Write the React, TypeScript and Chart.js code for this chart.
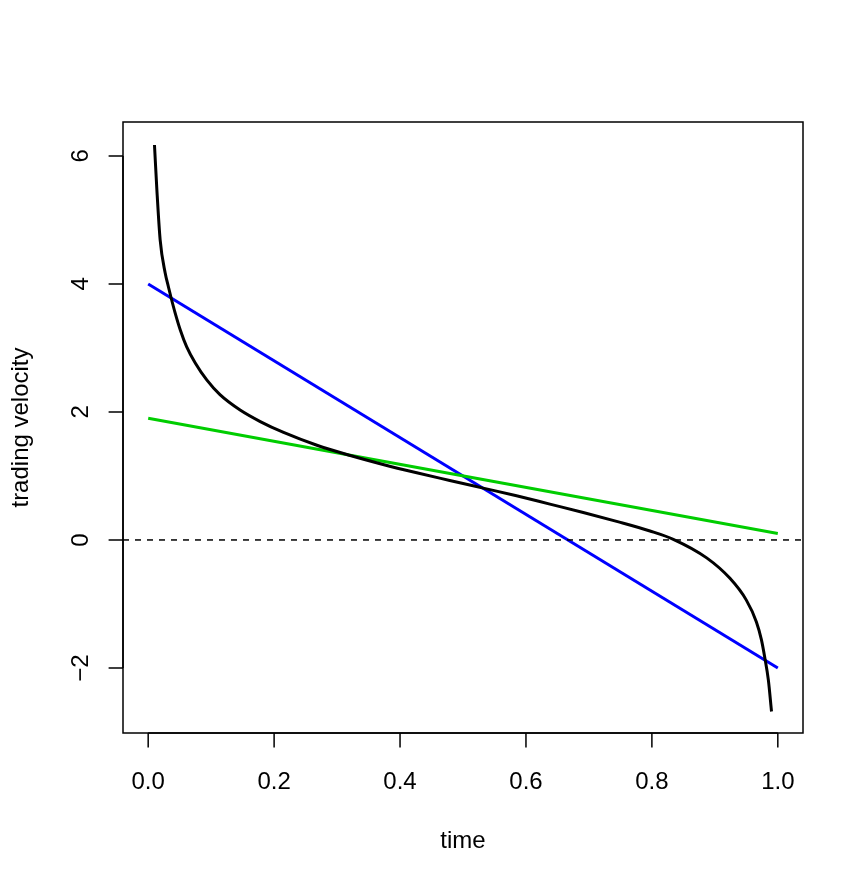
import React, { useEffect, useRef } from "react";
import { Chart, registerables } from "chart.js";

Chart.register(...registerables);

// Data
const blackTime = [0.01, 0.0138, 0.019, 0.027, 0.032, 0.036, 0.043, 0.051, 0.061, 0.075, 0.093, 0.114, 0.146, 0.178, 0.215, 0.268, 0.321, 0.373, 0.4265, 0.479, 0.532, 0.585, 0.638, 0.691, 0.744, 0.797, 0.834, 0.887, 0.924, 0.95, 0.966, 0.974, 0.979, 0.985, 0.99];
const blackVelocity = [6.17, 5.47, 4.69, 4.17, 3.96, 3.8, 3.54, 3.28, 3.02, 2.76, 2.5, 2.27, 2.03, 1.85, 1.68, 1.48, 1.32, 1.18, 1.05, 0.93, 0.81, 0.69, 0.56, 0.43, 0.29, 0.14, 0.01, -0.28, -0.6, -0.94, -1.28, -1.56, -1.82, -2.19, -2.68];
const greenTime = [0, 1];
const greenVelocity = [1.9, 0.1];
const blueTime = [0, 1];
const blueVelocity = [4, -2];
const zeroLevel = 0;

const xTicks = [0, 0.2, 0.4, 0.6, 0.8, 1.0];
const xTickLabels = ["0.0", "0.2", "0.4", "0.6", "0.8", "1.0"];
const yTicks = [-2, 0, 2, 4, 6];
const yTickLabels = ["\u22122", "0", "2", "4", "6"];
const xTitle = "time";
const yTitle = "trading velocity";

const X_MIN = -0.04;
const X_MAX = 1.04;
const Y_MIN = -3.016;
const Y_MAX = 6.53;

const FONT = '24px "Liberation Sans", Arial, Helvetica, sans-serif';

const toPoints = (xs: number[], ys: number[]) => xs.map((x, i) => ({ x, y: ys[i] }));

const axesPlugin = {
  id: "rAxes",
  afterDraw(chart: any) {
    const { ctx, chartArea, scales } = chart;
    const xs = scales.x;
    const ys = scales.y;
    ctx.save();
    ctx.strokeStyle = "#000";
    ctx.fillStyle = "#000";
    ctx.lineWidth = 1.5;
    ctx.strokeRect(chartArea.left, chartArea.top, chartArea.right - chartArea.left, chartArea.bottom - chartArea.top);
    const tl = 14.4;
    const xA = xs.getPixelForValue(xTicks[0]);
    const xB = xs.getPixelForValue(xTicks[xTicks.length - 1]);
    ctx.beginPath();
    ctx.moveTo(xA, chartArea.bottom);
    ctx.lineTo(xB, chartArea.bottom);
    xTicks.forEach((v) => {
      const px = xs.getPixelForValue(v);
      ctx.moveTo(px, chartArea.bottom);
      ctx.lineTo(px, chartArea.bottom + tl);
    });
    const yA = ys.getPixelForValue(yTicks[0]);
    const yB = ys.getPixelForValue(yTicks[yTicks.length - 1]);
    ctx.moveTo(chartArea.left, yA);
    ctx.lineTo(chartArea.left, yB);
    yTicks.forEach((v) => {
      const py = ys.getPixelForValue(v);
      ctx.moveTo(chartArea.left, py);
      ctx.lineTo(chartArea.left - tl, py);
    });
    ctx.stroke();

    ctx.font = FONT;
    ctx.textAlign = "center";
    ctx.textBaseline = "alphabetic";
    xTicks.forEach((v, i) => {
      ctx.fillText(xTickLabels[i], xs.getPixelForValue(v), chartArea.bottom + 56);
    });
    ctx.fillText(xTitle, (chartArea.left + chartArea.right) / 2, chartArea.bottom + 115);

    yTicks.forEach((v, i) => {
      ctx.save();
      ctx.translate(chartArea.left - 35, ys.getPixelForValue(v));
      ctx.rotate(-Math.PI / 2);
      ctx.fillText(yTickLabels[i], 0, 0);
      ctx.restore();
    });
    ctx.save();
    ctx.translate(chartArea.left - 95, (chartArea.top + chartArea.bottom) / 2);
    ctx.rotate(-Math.PI / 2);
    ctx.fillText(yTitle, 0, 0);
    ctx.restore();
    ctx.restore();
  },
};

const whiteBg = {
  id: "whiteBg",
  beforeDraw(chart: any) {
    const { ctx, width, height } = chart;
    ctx.save();
    ctx.fillStyle = "#fff";
    ctx.fillRect(0, 0, width, height);
    ctx.restore();
  },
};

export default function App() {
  const ref = useRef<HTMLCanvasElement | null>(null);
  useEffect(() => {
    if (!ref.current) return;
    const chart = new Chart(ref.current, {
      type: "line",
      data: {
        datasets: [
          {
            label: "zero",
            data: [
              { x: X_MIN, y: zeroLevel },
              { x: X_MAX, y: zeroLevel },
            ],
            borderColor: "#000",
            borderWidth: 1.5,
            borderDash: [6, 6],
            pointRadius: 0,
          },
          {
            label: "black",
            data: toPoints(blackTime, blackVelocity),
            borderColor: "#000",
            borderWidth: 3,
            pointRadius: 0,
            cubicInterpolationMode: "monotone",
          },
          {
            label: "green",
            data: toPoints(greenTime, greenVelocity),
            borderColor: "#00CD00",
            borderWidth: 3,
            pointRadius: 0,
          },
          {
            label: "blue",
            data: toPoints(blueTime, blueVelocity),
            borderColor: "#0000FF",
            borderWidth: 3,
            pointRadius: 0,
          },
        ],
      },
      options: {
        responsive: false,
        animation: false,
        devicePixelRatio: 1,
        layout: { padding: { left: 123, top: 122, right: 64, bottom: 155 } },
        plugins: { legend: { display: false }, tooltip: { enabled: false } },
        elements: { line: { borderCapStyle: "butt" } },
        scales: {
          x: { type: "linear", min: X_MIN, max: X_MAX, display: false },
          y: { type: "linear", min: Y_MIN, max: Y_MAX, display: false },
        },
      },
      plugins: [whiteBg, axesPlugin],
    });
    return () => chart.destroy();
  }, []);
  return (
    <div style={{ position: "fixed", left: 0, top: 0, width: 867, height: 888, background: "#fff" }}>
      <canvas ref={ref} width={867} height={888} style={{ display: "block" }} />
    </div>
  );
}
